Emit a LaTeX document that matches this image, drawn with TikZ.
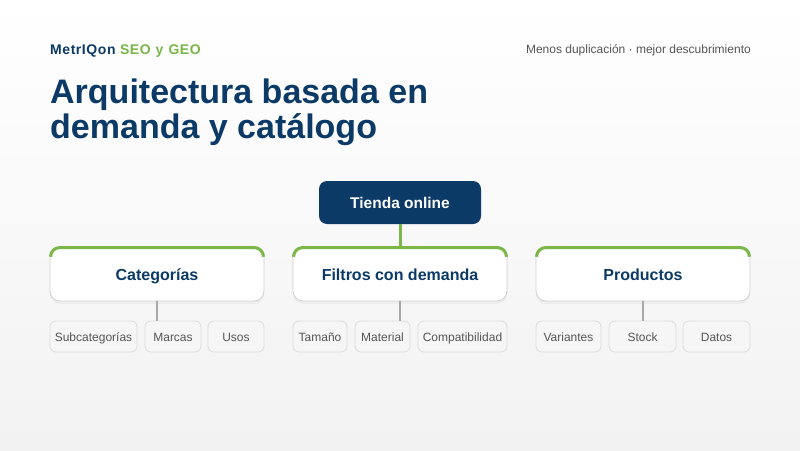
\documentclass[tikz,border=0pt]{standalone}
\usepackage{fontspec}
\setmainfont{Liberation Sans}
\usetikzlibrary{shadows}
\definecolor{navy}{HTML}{0B3A66}
\definecolor{leaf}{HTML}{7AB648}
\definecolor{greytxt}{HTML}{555555}
\definecolor{greyline}{HTML}{A8A8A8}
\definecolor{boxline}{HTML}{D0D0D0}
\definecolor{subfill}{HTML}{F6F6F6}
\definecolor{subline}{HTML}{DCDCDC}
\tikzset{
  rootbox/.style={fill=navy, rounded corners=8pt, text=white, font=\fontsize{15.5}{18}\selectfont\bfseries,
    minimum width=162pt, minimum height=43pt, inner sep=0pt, text height=11pt, text depth=0pt},
  mainbox/.style={fill=white, draw=boxline, line width=0.8pt, rounded corners=10pt,
    text=navy, font=\fontsize{16}{19}\selectfont\bfseries, minimum width=214pt, minimum height=54pt, inner sep=0pt,
    text height=13pt, text depth=0pt,
    drop shadow={opacity=0.07, shadow xshift=0pt, shadow yshift=-3pt}},
  subbox/.style={fill=subfill, draw=subline, line width=0.8pt, rounded corners=6pt,
    text=greytxt, font=\fontsize{12}{15}\selectfont, minimum height=31pt, inner sep=0pt,
    text height=10pt, text depth=0pt},
  greenlink/.style={draw=leaf, line width=3pt},
  greylink/.style={draw=greyline, line width=1.8pt},
  greentop/.style={draw=leaf, line width=3pt, rounded corners=9pt},
}
\begin{document}
\begin{tikzpicture}[x=1pt, y=-1pt]
\useasboundingbox (0,0) rectangle (800,450);
\shade[top color=white, bottom color={rgb,255:red,242;green,242;blue,242}] (0,0) rectangle (800,450);

% header
\node[anchor=base west, inner sep=0pt, font=\fontsize{14}{17}\selectfont\bfseries\addfontfeature{LetterSpace=4}] (brand) at (50,54)
  {\textcolor{navy}{MetrIQon}\hspace{4.5pt}\textcolor{leaf}{SEO\hspace{5pt}y\hspace{5pt}GEO}};
\node[anchor=base east, inner sep=0pt, text=greytxt, font=\fontsize{12}{15}\selectfont] (tag) at (751,53)
  {Menos duplicación · mejor descubrimiento};
\node[anchor=base west, inner sep=0pt, text=navy, font=\fontsize{34}{35}\selectfont\bfseries] (title1) at (50,103)
  {Arquitectura basada en};
\node[anchor=base west, inner sep=0pt, text=navy, font=\fontsize{34}{35}\selectfont\bfseries] (title2) at (50,138)
  {demanda y catálogo};

% root
\node[rootbox] (root) at (400,202.5) {Tienda online};

% main boxes
\node[mainbox] (cat) at (157,274) {Categorías};
\node[mainbox] (fil) at (400,274) {Filtros con demanda};
\node[mainbox] (pro) at (643,274) {Productos};
\foreach \n in {cat,fil,pro}{
  \draw[greentop] ([shift={(1,9)}]\n.north west) -- ([shift={(1,1)}]\n.north west)
     -- ([shift={(-1,1)}]\n.north east) -- ([shift={(-1,9)}]\n.north east);
}
\draw[greenlink] (root.south) -- (fil.north);

% sub boxes
\node[subbox, minimum width=87pt] (s1) at (93.5,336.5) {Subcategorías};
\node[subbox, minimum width=56pt] (s2) at (173,336.5) {Marcas};
\node[subbox, minimum width=56pt] (s3) at (236,336.5) {Usos};
\node[subbox, minimum width=54pt] (f1) at (320,336.5) {Tamaño};
\node[subbox, minimum width=55pt] (f2) at (382.5,336.5) {Material};
\node[subbox, minimum width=89pt] (f3) at (462.5,336.5) {Compatibilidad};
\node[subbox, minimum width=65pt] (p1) at (568.5,336.5) {Variantes};
\node[subbox, minimum width=67pt] (p2) at (642.5,336.5) {Stock};
\node[subbox, minimum width=67pt] (p3) at (716.5,336.5) {Datos};

\coordinate (cend) at (cat.south |- s2.north);
\coordinate (fend) at (fil.south |- f2.north);
\coordinate (pend) at (pro.south |- p2.north);
\draw[greylink] (cat.south) -- (cend);
\draw[greylink] (fil.south) -- (fend);
\draw[greylink] (pro.south) -- (pend);
\end{tikzpicture}
\end{document}
